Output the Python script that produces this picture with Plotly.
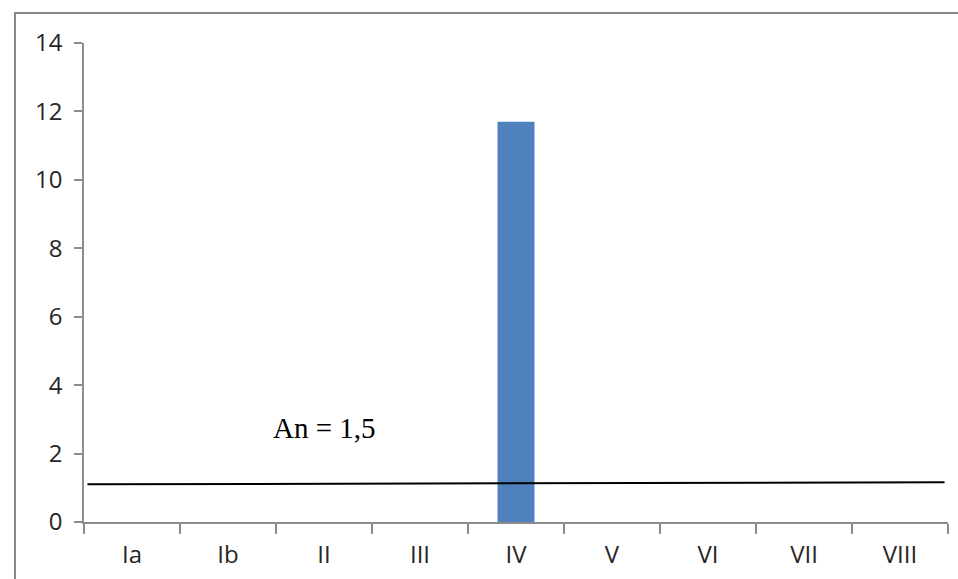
import plotly.graph_objects as go

categories = ["Ia", "Ib", "II", "III", "IV", "V", "VI", "VII", "VIII"]
values = [None, None, None, None, 11.7, None, None, None, None]
an_line_x = [0.0, 1.0]
an_line_y = [1.1, 1.16]
an_label = "An = 1,5"
an_label_x = "II"
an_label_y = 2.75
y_ticks = [0, 2, 4, 6, 8, 10, 12, 14]

W, H = 958, 579
L, R, T, B = 84, 10, 43, 57
pw, ph = W - L - R, H - T - B

fig = go.Figure()
fig.add_trace(go.Bar(x=categories, y=values, marker=dict(color="#4F81BD", line=dict(width=0)),
                     showlegend=False, hoverinfo="skip"))
fig.add_trace(go.Scatter(x=an_line_x, y=an_line_y, xaxis="x2", yaxis="y", mode="lines",
                         line=dict(color="black", width=2), showlegend=False, hoverinfo="skip"))

fig.add_annotation(x=an_label_x, y=an_label_y, xref="x", yref="y", text=an_label, showarrow=False,
                   font=dict(family="Liberation Serif", size=29, color="black"))

# outer chart border
fig.add_shape(type="rect", xref="paper", yref="paper",
              x0=(15 - L) / pw, x1=1.2, y0=-0.3, y1=(H - B - 13) / ph,
              line=dict(color="#888888", width=2), layer="below")

axis_font = dict(family="Open Sans", size=24, color="#262626")
fig.update_layout(
    width=W, height=H,
    margin=dict(l=L, r=R, t=T, b=B),
    paper_bgcolor="white", plot_bgcolor="white",
    bargap=0.615,
    xaxis=dict(type="category", categoryorder="array", categoryarray=categories,
               range=[-0.5, len(categories) - 0.5],
               showline=True, linecolor="#8C8C8C", linewidth=1.5,
               ticks="outside", tickson="boundaries", ticklen=10, tickcolor="#8C8C8C", tickwidth=1.5,
               showgrid=False, zeroline=False, tickfont=axis_font, ticklabelstandoff=10),
    xaxis2=dict(overlaying="x", range=[-0.004, 1.004], visible=False, showgrid=False, zeroline=False),
    yaxis=dict(range=[0, 14], tickvals=y_ticks, showline=True, linecolor="#8C8C8C", linewidth=1.5,
               ticks="outside", ticklen=8, tickcolor="#8C8C8C", tickwidth=1.5,
               showgrid=False, zeroline=False, tickfont=axis_font, ticklabelstandoff=7),
)

fig.write_html("out.html")
